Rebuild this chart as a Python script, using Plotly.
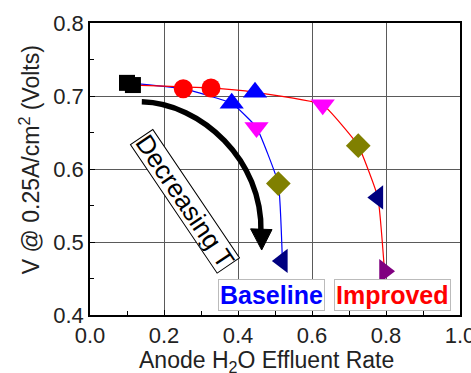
import plotly.graph_objects as go

# Anode water effluent rate vs. cell voltage at 0.25 A/cm2, one point per temperature step
baseline_x = [0.100, 0.252, 0.383, 0.450, 0.509, 0.520]
baseline_y = [0.718, 0.710, 0.690, 0.657, 0.580, 0.474]

improved_x = [0.116, 0.327, 0.446, 0.629, 0.725, 0.778, 0.796]
improved_y = [0.715, 0.711, 0.705, 0.688, 0.632, 0.561, 0.460]

# marker style for each temperature step (hottest first)
step_symbols = ["square", "circle", "triangle-up", "triangle-down",
                "diamond", "triangle-left", "triangle-right"]
step_colors = ["#000000", "#ff0000", "#0000ff", "#ff00ff",
               "#808000", "#000080", "#800080"]
step_sizes = [16, 19, 21, 21, 19, 21, 21]

x_ticks = [0.0, 0.2, 0.4, 0.6, 0.8, 1.0]
y_ticks = [0.4, 0.5, 0.6, 0.7, 0.8]

FONT = "Arial, Liberation Sans, sans-serif"

fig = go.Figure()

for xs, ys, col in [(baseline_x, baseline_y, "#0000ff"),
                    (improved_x, improved_y, "#ff0000")]:
    fig.add_trace(go.Scatter(
        x=xs, y=ys, mode="lines",
        line=dict(color=col, width=1.2, shape="spline", smoothing=0.35),
        hoverinfo="skip", showlegend=False))

for xs, ys in [(baseline_x, baseline_y), (improved_x, improved_y)]:
    n = len(xs)
    fig.add_trace(go.Scatter(
        x=xs, y=ys, mode="markers",
        marker=dict(symbol=step_symbols[:n], color=step_colors[:n],
                    size=step_sizes[:n], opacity=1, line=dict(width=0)),
        showlegend=False))

# curved "decreasing temperature" arrow
fig.add_shape(type="path",
              path="M 0.140,0.692 C 0.300,0.690 0.468,0.612 0.462,0.513",
              line=dict(color="black", width=5.5), layer="above")
fig.add_shape(type="path",
              path="M 0.434,0.518 L 0.464,0.489 L 0.492,0.517 Z",
              fillcolor="black", line=dict(color="black", width=1), layer="above")

fig.add_annotation(x=0.256, y=0.556, xref="x", yref="y", text="Decreasing T",
                   showarrow=False, textangle=56, height=26,
                   font=dict(family=FONT, size=26, color="black"),
                   bgcolor="white", bordercolor="black", borderwidth=1, borderpad=0)

fig.add_annotation(x=0.4905, y=0.428, xref="x", yref="y", text="<b>Baseline</b>",
                   showarrow=False, font=dict(family=FONT, size=25, color="#0000ff"),
                   bgcolor="white", bordercolor="#bbbbbb", borderwidth=1, borderpad=1)
fig.add_annotation(x=0.8176, y=0.428, xref="x", yref="y", text="<b>Improved</b>",
                   showarrow=False, font=dict(family=FONT, size=25, color="#ff0000"),
                   bgcolor="white", bordercolor="#bbbbbb", borderwidth=1, borderpad=1)

# axis titles
fig.add_annotation(x=0.476, y=0, xref="x", yref="paper", yanchor="middle",
                   yshift=-46, text="Anode H<sub>2</sub>O Effluent Rate",
                   showarrow=False, font=dict(family=FONT, size=23, color="#222222"))
fig.add_annotation(x=0, y=0.612, xref="paper", yref="y", xanchor="center",
                   xshift=-60, text="V @ 0.25A/cm<sup>2</sup> (Volts)", textangle=-90,
                   showarrow=False, font=dict(family=FONT, size=23, color="#222222"))

axis_common = dict(
    showgrid=True, gridcolor="#5a5a5a", gridwidth=1,
    showline=True, linecolor="black", linewidth=1.5, mirror=True,
    ticks="inside", ticklen=5, tickcolor="black", tickwidth=1,
    tickfont=dict(family=FONT, size=22, color="#222222"),
    ticklabeloverflow="allow", automargin=False,
    zeroline=False, tickformat=".1f",
)

fig.update_layout(
    width=471, height=373,
    margin=dict(l=90, r=11, t=23, b=58),
    paper_bgcolor="white", plot_bgcolor="white",
    xaxis=dict(range=[0, 1], tickvals=x_ticks,
               minor=dict(dtick=0.1, ticks="inside", ticklen=4, tickcolor="black", showgrid=False),
               **axis_common),
    yaxis=dict(range=[0.4, 0.8], tickvals=y_ticks,
               minor=dict(dtick=0.05, ticks="inside", ticklen=4, tickcolor="black", showgrid=False),
               **axis_common),
)

fig.write_html("out.html")
